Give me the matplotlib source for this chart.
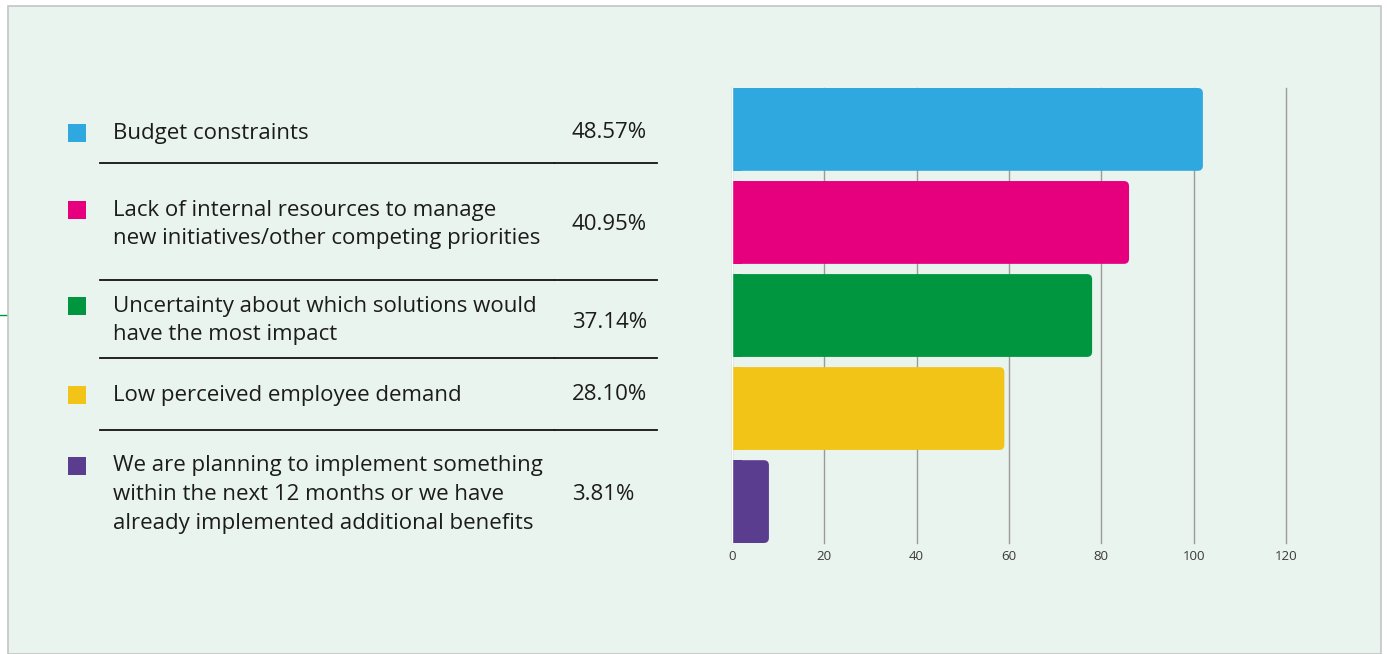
import matplotlib.pyplot as plt
from matplotlib.patches import FancyBboxPatch, Rectangle
from matplotlib.lines import Line2D

W, H = 1387, 654

labels = [
    "Budget constraints",
    "Lack of internal resources to manage\nnew initiatives/other competing priorities",
    "Uncertainty about which solutions would\nhave the most impact",
    "Low perceived employee demand",
    "We are planning to implement something\nwithin the next 12 months or we have\nalready implemented additional benefits",
]
shares = ["48.57%", "40.95%", "37.14%", "28.10%", "3.81%"]
counts = [102, 86, 78, 59, 8]
colors = ["#2ea8df", "#e6007e", "#009640", "#f2c418", "#5b3d8f"]
xticks = [0, 20, 40, 60, 80, 100, 120]

bg = "#eaf4ef"
ink = "#1c1c1c"
plt.rcParams["font.family"] = ["Open Sans", "DejaVu Sans"]
FS = 16


def fx(px):
    return px / W


def fy(py):
    return 1 - py / H


fig = plt.figure(figsize=(W / 100, H / 100), dpi=100)
fig.patch.set_facecolor("white")

# card background with thin grey border
fig.patches.append(Rectangle((fx(8), 0), fx(1381) - fx(8), fy(6), transform=fig.transFigure,
                             facecolor=bg, edgecolor="#c4c4c4", linewidth=1.2, zorder=-2))
fig.lines.append(Line2D([0, fx(6)], [fy(315), fy(315)], transform=fig.transFigure,
                        color="#009640", linewidth=1))

# legend-style table on the left
first_line = [133, 210, 306, 395, 466]
pct_y = [133, 224, 322, 395, 494]
line_h = 28.5
for lab, pct, c, y0, yp in zip(labels, shares, colors, first_line, pct_y):
    fig.patches.append(Rectangle((fx(68), fy(y0 + 9)), fx(18), 18 / H, transform=fig.transFigure,
                                 facecolor=c, edgecolor="none"))
    for i, part in enumerate(lab.split("\n")):
        fig.text(fx(113), fy(y0 + i * line_h), part, fontsize=FS, color=ink, va="center", ha="left")
    fig.text(fx(572), fy(yp), pct, fontsize=FS, color=ink, va="center", ha="left")

for sy in [163, 280, 358, 430]:
    fig.lines.append(Line2D([fx(100), fx(554)], [fy(sy), fy(sy)], transform=fig.transFigure,
                            color="#111111", linewidth=1.3))
    fig.lines.append(Line2D([fx(555), fx(657)], [fy(sy), fy(sy)], transform=fig.transFigure,
                            color="#111111", linewidth=1.3))

# bar chart
ax = fig.add_axes([fx(732), fy(543), fx(1286) - fx(732), fy(88) - fy(543)])
ax.set_facecolor("none")
bar_h = 0.89
ypos = list(range(len(counts)))
bars = ax.barh(ypos, counts, height=bar_h, color=colors, zorder=3)
ax.set_xlim(0, 120)
ax.set_ylim(len(counts) - 1 + bar_h / 2, -bar_h / 2)

# swap the plain bars for ones with rounded right-hand corners
r_x = 1.1
px_per_y = (fy(88) - fy(543)) * H / len(counts)
px_per_x = (fx(1286) - fx(732)) * W / 120
for b in bars:
    x, y, w, h = b.get_x(), b.get_y(), b.get_width(), b.get_height()
    b.set_visible(False)
    ax.add_patch(FancyBboxPatch((x, y), w, h, boxstyle=f"round,pad=0,rounding_size={r_x}",
                                mutation_aspect=px_per_x / px_per_y,
                                facecolor=b.get_facecolor(), edgecolor="none", zorder=3))
    ax.add_patch(Rectangle((x, y), min(w, 2 * r_x), h, facecolor=b.get_facecolor(),
                           edgecolor="none", zorder=3))

ax.set_xticks(xticks)
ax.set_yticks([])
ax.grid(axis="x", color="#9a9a9a", linewidth=1, zorder=0)
ax.set_axisbelow(True)
for gl in ax.get_xgridlines():
    gl.set_clip_on(False)
ax.tick_params(axis="x", length=0, pad=5, labelsize=9.5, labelcolor="#3a3a3a")
for s in ["top", "right", "bottom"]:
    ax.spines[s].set_visible(False)
ax.spines["left"].set_color("white")
ax.spines["left"].set_linewidth(1)
ax.spines["left"].set_zorder(4)

fig.savefig("out.png", dpi=100, facecolor=fig.get_facecolor())
